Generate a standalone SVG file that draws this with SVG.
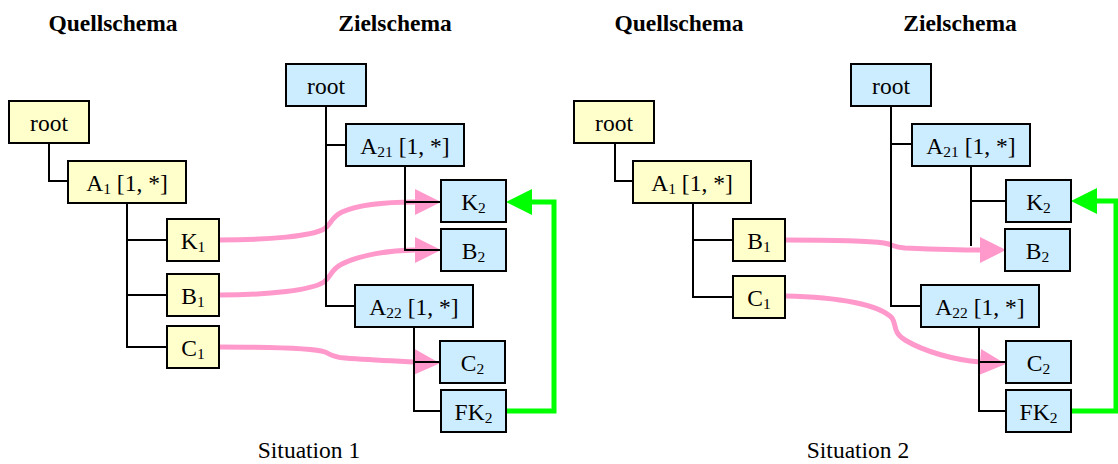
<svg xmlns="http://www.w3.org/2000/svg" width="1118" height="464" viewBox="0 0 1118 464">
  <style>
    text { font-family: "Liberation Serif", "Times New Roman", serif; font-size: 23.5px; fill: #000; }
    .title { font-weight: bold; text-anchor: middle; }
    .caption { text-anchor: middle; }
    .lbl { text-anchor: middle; }
    .sub { font-size: 15.5px; }
    .src { fill: #FFFFCC; stroke: #000; stroke-width: 2; }
    .tgt { fill: #CCECFF; stroke: #000; stroke-width: 2; }
    .tree { fill: none; stroke: #000; stroke-width: 2; }
    .map { fill: none; stroke: #FF99CC; stroke-width: 5; marker-end: url(#pinkHead); }
    .fk { fill: none; stroke: #00FF00; stroke-width: 5; }
  </style>
  <defs>
    <marker id="pinkHead" markerUnits="userSpaceOnUse" markerWidth="26" markerHeight="26" refX="0" refY="13" orient="auto" overflow="visible">
      <path d="M0,0 L26,13 L0,26 z" fill="#FF99CC"/>
    </marker>
    <marker id="greenHead" markerUnits="userSpaceOnUse" markerWidth="26" markerHeight="26" refX="0" refY="13" orient="auto" overflow="visible">
      <path d="M0,0 L26,13 L0,26 z" fill="#00FF00"/>
    </marker>
  </defs>

  <!-- headings -->
  <text class="title" x="113" y="31">Quellschema</text>
  <text class="title" x="395" y="31">Zielschema</text>
  <text class="title" x="679" y="31">Quellschema</text>
  <text class="title" x="960" y="31">Zielschema</text>
  <text class="caption" x="309" y="458">Situation 1</text>
  <text class="caption" x="858" y="458">Situation 2</text>

  <!-- element mappings and key reference -->
  <g id="connectors">
    <!-- situation 1 -->
    <path class="map" d="M219,240 C270,240 312,236 324,229 C332,224 330,218 342,212 C360,204 390,202 415,202"/>
    <path class="map" d="M219,295 C270,295 312,290 324,282 C332,276 330,270 342,264 C360,255 390,250 415,250"/>
    <path class="map" d="M219,347 C270,347 315,348 325,352 C332,355 332,357 345,358 C370,360 395,361 414,362"/>
    <path class="fk" d="M506,411 H554 V202 H532" marker-end="url(#greenHead)"/>
    <!-- situation 2 -->
    <path class="map" d="M785,240 C830,240 870,241 884,243 C895,245 892,247 905,248 C930,249 960,250 980,250"/>
    <path class="map" d="M785,296 C840,297 880,305 892,318 C897,325 892,332 905,340 C925,352 955,360 980,362"/>
    <path class="fk" d="M1071,411 H1116 V201 H1097" marker-end="url(#greenHead)"/>

    <!-- tree edges, situation 1 -->
    <path class="tree" d="M49,143 V181 H68"/>
    <path class="tree" d="M127,203 V347 H167 M127,240 H167 M127,295 H167"/>
    <path class="tree" d="M326,106 V306 H355 M326,145 H346"/>
    <path class="tree" d="M405,166 V250 H441 M405,202 H441"/>
    <path class="tree" d="M414,327 V411 H441 M414,362 H440"/>
    <!-- tree edges, situation 2 -->
    <path class="tree" d="M615,143 V181 H633"/>
    <path class="tree" d="M693,203 V297 H733 M693,240 H733"/>
    <path class="tree" d="M891,106 V306 H921 M891,144 H912"/>
    <path class="tree" d="M971,166 V246 M971,201 H1006"/>
    <path class="tree" d="M979,327 V411 H1006 M979,362 H1006"/>
  </g>

  <!-- situation 1, source schema -->
  <g id="s1-src-root"><rect class="src" x="9" y="101" width="80" height="42"/><text class="lbl" x="49" y="131">root</text></g>
  <g id="s1-A1"><rect class="src" x="68" y="161" width="118" height="42"/><text class="lbl" x="127" y="191">A<tspan class="sub" dy="3">1</tspan><tspan dy="-3"> [1, *]</tspan></text></g>
  <g id="s1-K1"><rect class="src" x="167" y="219" width="52" height="42"/><text class="lbl" x="193" y="249">K<tspan class="sub" dy="3">1</tspan></text></g>
  <g id="s1-B1"><rect class="src" x="167" y="274" width="52" height="42"/><text class="lbl" x="193" y="304">B<tspan class="sub" dy="3">1</tspan></text></g>
  <g id="s1-C1"><rect class="src" x="167" y="326" width="52" height="42"/><text class="lbl" x="193" y="356">C<tspan class="sub" dy="3">1</tspan></text></g>

  <!-- situation 1, target schema -->
  <g id="s1-tgt-root"><rect class="tgt" x="286" y="64" width="80" height="42"/><text class="lbl" x="326" y="94">root</text></g>
  <g id="s1-A21"><rect class="tgt" x="346" y="124" width="118" height="42"/><text class="lbl" x="405" y="154">A<tspan class="sub" dy="3">21</tspan><tspan dy="-3"> [1, *]</tspan></text></g>
  <g id="s1-K2"><rect class="tgt" x="441" y="180" width="65" height="42"/><text class="lbl" x="473.5" y="210">K<tspan class="sub" dy="3">2</tspan></text></g>
  <g id="s1-B2"><rect class="tgt" x="441" y="229" width="65" height="42"/><text class="lbl" x="473.5" y="259">B<tspan class="sub" dy="3">2</tspan></text></g>
  <g id="s1-A22"><rect class="tgt" x="355" y="285" width="118" height="42"/><text class="lbl" x="414" y="315">A<tspan class="sub" dy="3">22</tspan><tspan dy="-3"> [1, *]</tspan></text></g>
  <g id="s1-C2"><rect class="tgt" x="440" y="341" width="65" height="42"/><text class="lbl" x="472.5" y="371">C<tspan class="sub" dy="3">2</tspan></text></g>
  <g id="s1-FK2"><rect class="tgt" x="441" y="390" width="65" height="42"/><text class="lbl" x="473.5" y="420">FK<tspan class="sub" dy="3">2</tspan></text></g>

  <!-- situation 2, source schema -->
  <g id="s2-src-root"><rect class="src" x="574" y="101" width="80" height="42"/><text class="lbl" x="614" y="131">root</text></g>
  <g id="s2-A1"><rect class="src" x="633" y="161" width="118" height="42"/><text class="lbl" x="692" y="191">A<tspan class="sub" dy="3">1</tspan><tspan dy="-3"> [1, *]</tspan></text></g>
  <g id="s2-B1"><rect class="src" x="733" y="219" width="52" height="42"/><text class="lbl" x="759" y="249">B<tspan class="sub" dy="3">1</tspan></text></g>
  <g id="s2-C1"><rect class="src" x="733" y="276" width="52" height="42"/><text class="lbl" x="759" y="306">C<tspan class="sub" dy="3">1</tspan></text></g>

  <!-- situation 2, target schema -->
  <g id="s2-tgt-root"><rect class="tgt" x="851" y="64" width="80" height="42"/><text class="lbl" x="891" y="94">root</text></g>
  <g id="s2-A21"><rect class="tgt" x="912" y="124" width="118" height="42"/><text class="lbl" x="971" y="154">A<tspan class="sub" dy="3">21</tspan><tspan dy="-3"> [1, *]</tspan></text></g>
  <g id="s2-K2"><rect class="tgt" x="1006" y="180" width="65" height="42"/><text class="lbl" x="1038.5" y="210">K<tspan class="sub" dy="3">2</tspan></text></g>
  <g id="s2-B2"><rect class="tgt" x="1005" y="229" width="65" height="42"/><text class="lbl" x="1037.5" y="259">B<tspan class="sub" dy="3">2</tspan></text></g>
  <g id="s2-A22"><rect class="tgt" x="921" y="285" width="118" height="42"/><text class="lbl" x="980" y="315">A<tspan class="sub" dy="3">22</tspan><tspan dy="-3"> [1, *]</tspan></text></g>
  <g id="s2-C2"><rect class="tgt" x="1006" y="341" width="65" height="42"/><text class="lbl" x="1038.5" y="371">C<tspan class="sub" dy="3">2</tspan></text></g>
  <g id="s2-FK2"><rect class="tgt" x="1006" y="390" width="65" height="42"/><text class="lbl" x="1038.5" y="420">FK<tspan class="sub" dy="3">2</tspan></text></g>
</svg>
